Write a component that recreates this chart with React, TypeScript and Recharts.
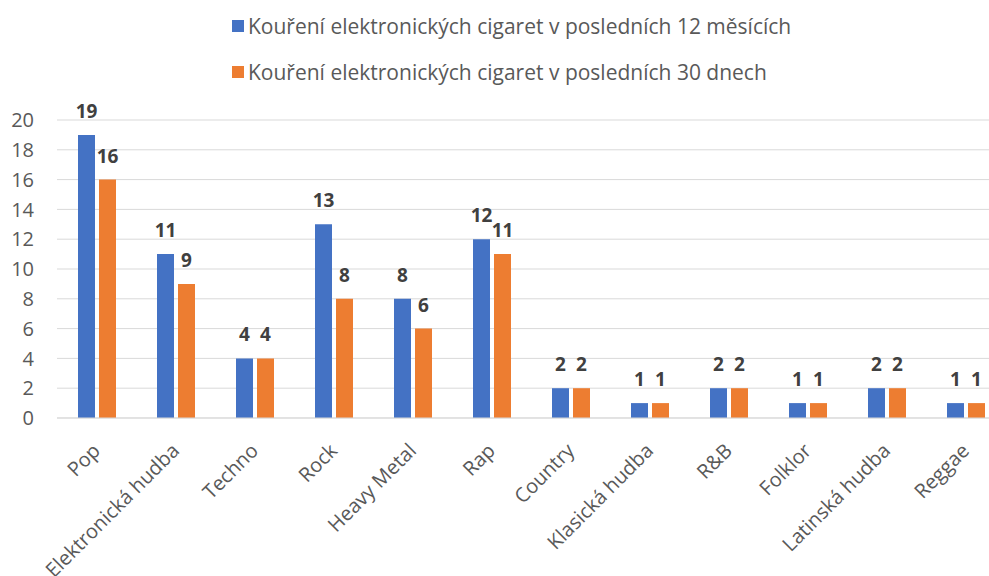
import { BarChart, Bar, XAxis, YAxis, CartesianGrid, LabelList } from "recharts";

const categories = [
  "Pop",
  "Elektronická hudba",
  "Techno",
  "Rock",
  "Heavy Metal",
  "Rap",
  "Country",
  "Klasická hudba",
  "R&B",
  "Folklor",
  "Latinská hudba",
  "Reggae",
];
const last12Months = [19, 11, 4, 13, 8, 12, 2, 1, 2, 1, 2, 1];
const last30Days = [16, 9, 4, 8, 6, 11, 2, 1, 2, 1, 2, 1];
const yTicks = [0, 2, 4, 6, 8, 10, 12, 14, 16, 18, 20];

const series = [
  { key: "m12", label: "Kouření elektronických cigaret v posledních 12 měsících", color: "#4472C4" },
  { key: "d30", label: "Kouření elektronických cigaret v posledních 30 dnech", color: "#ED7D31" },
];

const data = categories.map((name, i) => ({ name, m12: last12Months[i], d30: last30Days[i] }));

const FONT = "'Open Sans', sans-serif";

// rotated category labels, text ends just below the tick
const XTick = ({ x, y, payload }: any) => (
  <g transform={`translate(${x + 5}, ${y + 26}) rotate(-45)`}>
    <text x={0} y={0} textAnchor="end" fill="#595959" fontSize={20} fontFamily={FONT}>
      {payload.value}
    </text>
  </g>
);

export default function App() {
  return (
    <div style={{ position: "fixed", left: 0, top: 0, width: 989, height: 576, overflow: "hidden", background: "#fff" }}>
      <div style={{ position: "absolute", left: 232, top: 12, fontFamily: FONT, fontSize: 21, color: "#595959" }}>
        {series.map((s, i) => (
          <div key={s.key} style={{ display: "flex", alignItems: "center", height: 28, marginTop: i ? 18 : 0 }}>
            <span style={{ display: "inline-block", width: 12, height: 12, background: s.color, marginRight: 4 }} />
            {s.label}
          </div>
        ))}
      </div>
      <BarChart
        width={1010}
        height={576}
        data={data}
        margin={{ top: 120, right: 5, left: 0, bottom: 0 }}
        barSize={17}
        barGap={4}
      >
        <CartesianGrid vertical={false} stroke="#d9d9d9" />
        <XAxis
          dataKey="name"
          interval={0}
          height={158}
          tickLine={false}
          axisLine={{ stroke: "#d9d9d9" }}
          tick={<XTick />}
        />
        <YAxis
          width={57}
          domain={[0, 20]}
          ticks={yTicks}
          axisLine={false}
          tickLine={false}
          tickSize={0}
          tickMargin={23}
          tick={{ fill: "#595959", fontSize: 20, fontFamily: FONT }}
        />
        {series.map((s) => (
          <Bar key={s.key} dataKey={s.key} name={s.label} fill={s.color} isAnimationActive={false}>
            <LabelList
              dataKey={s.key}
              position="top"
              offset={17}
              fill="#404040"
              fontSize={19}
              fontWeight="bold"
              fontFamily={FONT}
            />
          </Bar>
        ))}
      </BarChart>
    </div>
  );
}
